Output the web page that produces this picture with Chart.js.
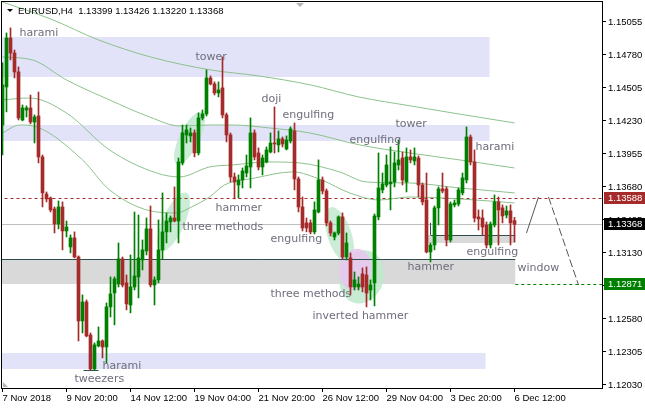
<!DOCTYPE html>
<html>
<head>
<meta charset="utf-8">
<script src="https://cdn.jsdelivr.net/npm/chart.js@4.4.0/dist/chart.umd.min.js"></script>
<style>
  html, body { margin: 0; padding: 0; background: #fff; }
  canvas { display: block; }
</style>
</head>
<body>
<canvas id="chart" width="645" height="408"></canvas>
<script>
// EURUSD H4 candles, 7 Nov 04:00 .. 6 Dec 12:00 2018
const opens = [
  1.14196, 1.14513, 1.14921, 1.14796, 1.14638, 1.14238, 1.14321, 1.14338, 1.14221, 1.14271,
  1.13930, 1.13621, 1.13588, 1.13496, 1.13371, 1.13513, 1.13313, 1.13180, 1.13255, 1.13096,
  1.12563, 1.12721, 1.12446, 1.12163, 1.12355, 1.12396, 1.12346, 1.12680, 1.12796, 1.12871,
  1.13080, 1.12880, 1.12696, 1.12846, 1.12930, 1.13071, 1.13146, 1.13330, 1.12863, 1.12905,
  1.13155, 1.13305, 1.13388, 1.13421, 1.13396, 1.13880, 1.14113, 1.14105, 1.14130, 1.13963,
  1.14255, 1.14288, 1.14588, 1.14538, 1.14463, 1.14505, 1.14280, 1.14113, 1.13763, 1.13696,
  1.13738, 1.13796, 1.13846, 1.14130, 1.13963, 1.13846, 1.13888, 1.13971, 1.14046, 1.14030,
  1.14080, 1.13996, 1.14063, 1.14146, 1.13746, 1.13513, 1.13380, 1.13380, 1.13305, 1.13471,
  1.13738, 1.13646, 1.13380, 1.13263, 1.13296, 1.13430, 1.13096, 1.13088, 1.12846, 1.12846,
  1.12955, 1.12946, 1.12821, 1.12880, 1.13430, 1.13655, 1.13696, 1.13705, 1.13721, 1.13863,
  1.13921, 1.13721, 1.13930, 1.13896, 1.13921, 1.13696, 1.13571, 1.13138, 1.13196, 1.13505,
  1.13663, 1.13663, 1.13238, 1.13530, 1.13538, 1.13630, 1.13738, 1.14096, 1.13888, 1.13430,
  1.13421, 1.13363, 1.13196, 1.13363, 1.13555, 1.13505, 1.13446, 1.13480, 1.13399
];
const highs = [
  1.14713, 1.14963, 1.15005, 1.14821, 1.14680, 1.14363, 1.14355, 1.14446, 1.14280, 1.14471,
  1.13946, 1.13638, 1.13596, 1.13513, 1.13563, 1.13555, 1.13396, 1.13280, 1.13305, 1.13105,
  1.12780, 1.12738, 1.12463, 1.12380, 1.12513, 1.12405, 1.12713, 1.12930, 1.12930, 1.13213,
  1.13096, 1.12946, 1.13113, 1.13471, 1.13446, 1.13238, 1.13421, 1.13521, 1.12930, 1.13405,
  1.13630, 1.13463, 1.13438, 1.13680, 1.13921, 1.14196, 1.14196, 1.14171, 1.14155, 1.14296,
  1.14321, 1.14655, 1.14605, 1.14555, 1.14555, 1.14763, 1.14296, 1.14130, 1.13796, 1.13780,
  1.13838, 1.13946, 1.14255, 1.14155, 1.14005, 1.13946, 1.14013, 1.14130, 1.14346, 1.14146,
  1.14096, 1.14105, 1.14180, 1.14213, 1.13763, 1.13596, 1.13421, 1.13405, 1.13555, 1.13905,
  1.13763, 1.13663, 1.13396, 1.13305, 1.13438, 1.13463, 1.13296, 1.13130, 1.12971, 1.12930,
  1.13005, 1.13013, 1.12905, 1.13455, 1.13963, 1.13796, 1.13946, 1.14013, 1.13971, 1.14071,
  1.13971, 1.14005, 1.13988, 1.14005, 1.13938, 1.13713, 1.13796, 1.13213, 1.13521, 1.13680,
  1.13796, 1.13680, 1.13555, 1.13571, 1.13671, 1.13796, 1.14180, 1.14113, 1.13988, 1.13488,
  1.13488, 1.13388, 1.13388, 1.13613, 1.13596, 1.13530, 1.13521, 1.13530, 1.13426
];
const lows = [
  1.13946, 1.14305, 1.14738, 1.14588, 1.14238, 1.14230, 1.14263, 1.14205, 1.14046, 1.13880,
  1.13513, 1.13555, 1.13471, 1.13296, 1.13330, 1.13155, 1.13263, 1.13130, 1.13088, 1.12396,
  1.12463, 1.12430, 1.12155, 1.12155, 1.12346, 1.12255, 1.12213, 1.12596, 1.12530, 1.12846,
  1.12846, 1.12655, 1.12630, 1.12821, 1.12755, 1.12988, 1.13113, 1.12846, 1.12696, 1.12880,
  1.13080, 1.13213, 1.13305, 1.13388, 1.13213, 1.13863, 1.14046, 1.14055, 1.13930, 1.13946,
  1.14238, 1.14271, 1.14530, 1.14446, 1.14430, 1.14255, 1.14055, 1.13721, 1.13580, 1.13588,
  1.13671, 1.13763, 1.13671, 1.13905, 1.13821, 1.13780, 1.13880, 1.13963, 1.13963, 1.13971,
  1.14013, 1.13988, 1.14046, 1.13655, 1.13471, 1.13313, 1.13305, 1.13288, 1.13288, 1.13463,
  1.13621, 1.13355, 1.13271, 1.13238, 1.13280, 1.13080, 1.13071, 1.12780, 1.12821, 1.12821,
  1.12805, 1.12680, 1.12738, 1.12688, 1.13405, 1.13630, 1.13680, 1.13488, 1.13680, 1.13821,
  1.13696, 1.13638, 1.13880, 1.13863, 1.13596, 1.13530, 1.13130, 1.13055, 1.13155, 1.13363,
  1.13630, 1.13188, 1.13221, 1.13513, 1.13521, 1.13613, 1.13713, 1.13863, 1.13388, 1.13321,
  1.13280, 1.13171, 1.13171, 1.13346, 1.13196, 1.13380, 1.13421, 1.13196, 1.13220
];
const closes = [
  1.14530, 1.14921, 1.14796, 1.14638, 1.14255, 1.14338, 1.14338, 1.14221, 1.14263, 1.13930,
  1.13630, 1.13580, 1.13488, 1.13371, 1.13513, 1.13313, 1.13346, 1.13255, 1.13096, 1.12563,
  1.12721, 1.12438, 1.12163, 1.12363, 1.12396, 1.12346, 1.12680, 1.12788, 1.12913, 1.13080,
  1.12863, 1.12705, 1.12846, 1.12938, 1.13088, 1.13155, 1.13330, 1.12863, 1.12905, 1.13155,
  1.13305, 1.13396, 1.13421, 1.13396, 1.13888, 1.14130, 1.14155, 1.14130, 1.13963, 1.14255,
  1.14288, 1.14588, 1.14538, 1.14463, 1.14488, 1.14280, 1.14113, 1.13763, 1.13721, 1.13738,
  1.13813, 1.13855, 1.14130, 1.13930, 1.13846, 1.13921, 1.13988, 1.14046, 1.14038, 1.14080,
  1.14038, 1.14071, 1.14163, 1.13746, 1.13513, 1.13338, 1.13338, 1.13305, 1.13488, 1.13738,
  1.13646, 1.13380, 1.13296, 1.13296, 1.13430, 1.13096, 1.13213, 1.12846, 1.12905, 1.12871,
  1.12846, 1.12796, 1.12863, 1.13438, 1.13671, 1.13705, 1.13863, 1.13721, 1.13880, 1.13905,
  1.13738, 1.13930, 1.13905, 1.13930, 1.13696, 1.13555, 1.13138, 1.13196, 1.13505, 1.13663,
  1.13646, 1.13238, 1.13538, 1.13546, 1.13655, 1.13755, 1.14096, 1.13888, 1.13421, 1.13413,
  1.13346, 1.13196, 1.13371, 1.13555, 1.13488, 1.13438, 1.13480, 1.13380, 1.13368
];

// moving averages, [bar index, price]
const maA = [[0,1.15221],[12,1.15080],[24,1.14905],[37,1.14763],[52,1.14655],[64,1.14605],[77,1.14530],[89,1.14430],[102,1.14355],[114,1.14288],[128,1.14213]];
const maB = [[0,1.14763],[7.5,1.14738],[16,1.14571],[26.75,1.14405],[36.75,1.14263],[44.25,1.14188],[51.75,1.14196],[57.5,1.14196],[66.75,1.14171],[76.75,1.14130],[89.25,1.14030],[101.75,1.13963],[114.25,1.13905],[128,1.13838]];
const maC = [[0,1.14405],[6.75,1.14421],[16,1.14296],[26.75,1.13988],[38.5,1.13796],[44.25,1.13763],[51.75,1.13846],[57.5,1.13863],[66.75,1.13888],[74.25,1.13880],[84.25,1.13805],[91,1.13721],[101.75,1.13713],[114.25,1.13671],[128,1.13630]];
const maD = [[0,1.14130],[4.25,1.14196],[8.5,1.14180],[20,1.13905],[26.75,1.13655],[38.5,1.13471],[43.5,1.13463],[47.25,1.13513],[51.75,1.13596],[55.5,1.13696],[63.25,1.13755],[72.5,1.13805],[79.75,1.13738],[86.75,1.13630],[94.25,1.13571],[101.75,1.13596],[114.25,1.13580],[128,1.13546]];

// projected path to the right of the last bar
const projUp = [[131,1.13296],[134,1.13596]];
const projDown = [[136.5,1.13596],[144,1.12863]];

const xTickIdx = [0, 16, 32, 48, 64, 80, 96, 112, 128];
const xTickLabels = ['7 Nov 2018', '9 Nov 20:00', '14 Nov 12:00', '19 Nov 04:00', '21 Nov 20:00',
  '26 Nov 12:00', '29 Nov 04:00', '3 Dec 20:00', '6 Dec 12:00'];
const yTicks = [1.12030, 1.12305, 1.12580, 1.12855, 1.13130, 1.13405, 1.13680, 1.13955, 1.14230, 1.14505, 1.14780, 1.15055];

const bull = '#008000';
const bear = '#a52a2a';
const labelColor = '#6e6e7c';
const axisFont = '9.5px "Liberation Sans", Arial, sans-serif';

// zones: from/to bar index, hi/lo price
const zones = [
  { from: -1, to: 121.75, hi: 1.14930, lo: 1.14596, color: '#e2e2f8' },
  { from: -1, to: 121.75, hi: 1.14196, lo: 1.14063, color: '#e2e2f8' },
  { from: -1, to: 120.75, hi: 1.12296, lo: 1.12163, color: '#e2e2f8' },
  { from: -1, to: 128.2, hi: 1.13080, lo: 1.12871, color: '#d9d9d9' },
  { from: 106, to: 128.2, hi: 1.13280, lo: 1.13213, color: '#d9d9d9' }
];
const blobs = [
  { i: 46.75, p: 1.14088, rx: 29, ry: 10, rot: -1.12, color: 'rgba(190,232,205,0.8)' },
  { i: 42.75, p: 1.13388, rx: 32, ry: 11, rot: -1.15, color: 'rgba(190,232,205,0.8)' },
  { i: 84.25, p: 1.13280, rx: 29, ry: 12, rot: 1.25, color: 'rgba(190,232,205,0.8)' },
  { i: 89.8, p: 1.12930, rx: 22, ry: 27, rot: 0.3, color: 'rgba(190,232,205,0.85)' },
  { i: 88.2, p: 1.12990, rx: 16, ry: 21, rot: 0.2, color: 'rgba(232,200,240,0.9)' }
];
const notes = [
  ['harami', 4.25, 1.14963], ['tower', 48.25, 1.14763], ['doji', 64.75, 1.14413],
  ['engulfing', 70, 1.14280], ['engulfing', 86.75, 1.14071], ['tower', 98.25, 1.14205],
  ['harami', 118.25, 1.14013], ['hammer', 53.25, 1.13505], ['three methods', 45, 1.13346],
  ['engulfing', 67, 1.13246], ['three methods', 67, 1.12788], ['inverted hammer', 77.5, 1.12605],
  ['hammer', 101.25, 1.13013], ['engulfing', 116, 1.13138], ['window', 128.75, 1.13005],
  ['harami', 25, 1.12188], ['tweezers', 18, 1.12080]
];

const bodies = opens.map((o, i) => ({ x: i, y: [o, closes[i]] }));
const wicks = opens.map((o, i) => ({ x: i, y: [lows[i], highs[i]] }));
const candleColors = opens.map((o, i) => closes[i] >= o ? bull : bear);
const pts = arr => arr.map(([i, p]) => ({ x: i, y: p }));

function maSet(arr) {
  return {
    type: 'line', data: pts(arr), borderColor: '#8cc28c', borderWidth: 1,
    pointRadius: 0, tension: 0.4, cubicInterpolationMode: 'monotone', order: 3
  };
}

const overlay = {
  id: 'overlay',
  beforeDatasetsDraw(chart) {
    const { ctx, chartArea: a, scales: { x, y } } = chart;
    ctx.save();
    ctx.beginPath();
    ctx.rect(a.left, a.top, a.width, a.height);
    ctx.clip();
    zones.forEach(z => {
      const x0 = x.getPixelForValue(z.from), x1 = x.getPixelForValue(z.to);
      const y0 = Math.round(y.getPixelForValue(z.hi)), y1 = Math.round(y.getPixelForValue(z.lo));
      ctx.fillStyle = z.color;
      ctx.fillRect(x0, y0, x1 - x0, y1 - y0);
    });
    blobs.forEach(b => {
      ctx.beginPath();
      ctx.ellipse(x.getPixelForValue(b.i), y.getPixelForValue(b.p), b.rx, b.ry, b.rot, 0, Math.PI * 2);
      ctx.fillStyle = b.color;
      ctx.fill();
    });
    const hline = (p, from, to, color, dash) => {
      const yy = Math.round(y.getPixelForValue(p)) + 0.5;
      ctx.beginPath();
      ctx.setLineDash(dash);
      ctx.strokeStyle = color;
      ctx.lineWidth = 1;
      ctx.moveTo(x.getPixelForValue(from), yy);
      ctx.lineTo(x.getPixelForValue(to), yy);
      ctx.stroke();
      ctx.setLineDash([]);
    };
    hline(1.13368, -1, 151, '#c0c0c0', []);
    hline(1.13588, -1, 151, bear, [3, 3]);
    hline(1.12871, 128.2, 151, bull, [3, 3]);
    hline(1.13080, -1, 128.2, '#2f4f4f', []);
    hline(1.13280, 107, 128.2, '#2f4f4f', []);
    hline(1.12155, 20.25, 24, '#2f4f4f', []);
    const vx = Math.round(x.getPixelForValue(107)) + 0.5;
    ctx.beginPath();
    ctx.strokeStyle = '#2f4f4f';
    ctx.moveTo(vx, y.getPixelForValue(1.13380));
    ctx.lineTo(vx, y.getPixelForValue(1.13280));
    ctx.stroke();
    ctx.restore();
  },
  afterDatasetsDraw(chart) {
    const { ctx, scales: { x, y } } = chart;
    ctx.save();
    ctx.font = '11px "DejaVu Sans", sans-serif';
    ctx.fillStyle = labelColor;
    ctx.textBaseline = 'middle';
    ctx.textAlign = 'left';
    notes.forEach(([t, i, p]) => ctx.fillText(t, x.getPixelForValue(i), y.getPixelForValue(p)));
    ctx.restore();
  },
  afterDraw(chart) {
    const { ctx, chartArea: a, scales: { y } } = chart;
    ctx.save();
    ctx.strokeStyle = '#000';
    ctx.lineWidth = 1;
    ctx.strokeRect(a.left - 0.5, a.top - 0.5, a.width + 1, a.height + 1);
    // price tags on the axis
    [[1.13588, bear], [1.13368, '#000'], [1.12871, bull]].forEach(([p, bg]) => {
      const yy = Math.round(y.getPixelForValue(p));
      ctx.fillStyle = bg;
      ctx.fillRect(a.right + 2, yy - 6, 43, 12);
      ctx.fillStyle = '#fff';
      ctx.font = axisFont;
      ctx.textBaseline = 'middle';
      ctx.fillText(p.toFixed(5), a.right + 6, yy + 0.5);
    });
    // header
    ctx.fillStyle = '#000';
    ctx.beginPath();
    ctx.moveTo(7, 9); ctx.lineTo(13, 9); ctx.lineTo(10, 12); ctx.closePath();
    ctx.fill();
    ctx.font = axisFont;
    ctx.textBaseline = 'middle';
    ctx.fillText('EURUSD,H4  1.13399 1.13426 1.13220 1.13368', 18, 11);
    // small markers
    ctx.fillStyle = '#b4b4b4';
    ctx.beginPath();
    ctx.moveTo(296, 3); ctx.lineTo(304, 3); ctx.lineTo(300, 7); ctx.closePath();
    ctx.fill();
    ctx.beginPath();
    ctx.moveTo(a.left + 1, a.bottom - 6); ctx.lineTo(a.left + 1, a.bottom - 1); ctx.lineTo(a.left + 6, a.bottom - 1); ctx.closePath();
    ctx.fill();
    ctx.restore();
  }
};

new Chart(document.getElementById('chart'), {
  type: 'bar',
  data: {
    datasets: [
      { data: bodies, backgroundColor: candleColors, barThickness: 3, minBarLength: 1, grouped: false, borderWidth: 0, order: 0 },
      { data: wicks, backgroundColor: candleColors, barThickness: 1, grouped: false, borderWidth: 0, order: 1 },
      maSet(maA), maSet(maB), maSet(maC), maSet(maD),
      { type: 'line', data: pts(projUp), borderColor: '#555', borderWidth: 1, pointRadius: 0, order: 2 },
      { type: 'line', data: pts(projDown), borderColor: '#555', borderWidth: 1, borderDash: [8, 3], pointRadius: 0, order: 2 }
    ]
  },
  options: {
    responsive: false,
    animation: false,
    devicePixelRatio: 1,
    layout: { padding: { left: 2, top: 2, right: 0, bottom: 0 } },
    plugins: { legend: { display: false }, tooltip: { enabled: false } },
    scales: {
      x: {
        type: 'linear', min: -0.125, max: 149.875, position: 'bottom', offset: false,
        grid: { offset: false, drawOnChartArea: false, drawTicks: true, tickLength: 4, color: '#000' },
        border: { display: false },
        ticks: {
          align: 'start', autoSkip: false, maxRotation: 0, padding: 1,
          font: { family: '"Liberation Sans", Arial, sans-serif', size: 9.5 }, color: '#000',
          callback: v => xTickLabels[xTickIdx.indexOf(v)] || ''
        },
        afterBuildTicks: s => { s.ticks = xTickIdx.map(v => ({ value: v })); },
        afterFit: s => { s.height = 20; s.paddingLeft = 0; s.paddingRight = 0; }
      },
      y: {
        type: 'linear', position: 'right', min: 1.12004, max: 1.15221,
        grid: { drawOnChartArea: false, drawTicks: true, tickLength: 4, color: '#000' },
        border: { display: false },
        ticks: {
          padding: 2, font: { family: '"Liberation Sans", Arial, sans-serif', size: 9.5 }, color: '#000',
          callback: v => v.toFixed(5)
        },
        afterBuildTicks: s => { s.ticks = yTicks.map(v => ({ value: v })); },
        afterFit: s => { s.width = 43; s.paddingTop = 0; s.paddingBottom = 0; }
      }
    }
  },
  plugins: [overlay]
});
</script>
</body>
</html>
